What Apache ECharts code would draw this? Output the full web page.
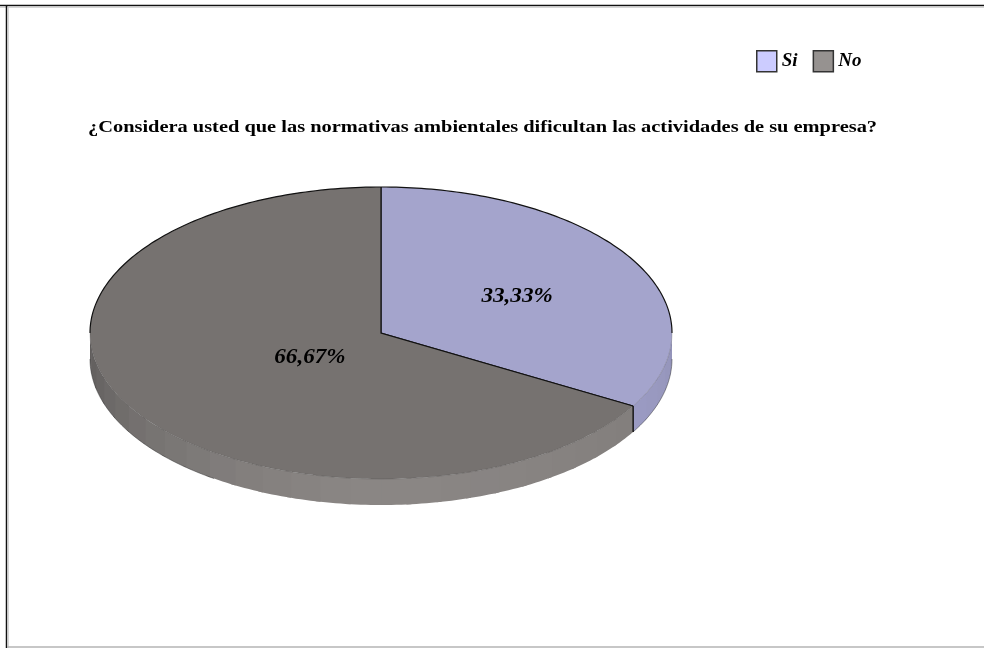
<!DOCTYPE html>
<html>
<head>
<meta charset="utf-8">
<style>html,body{margin:0;padding:0;background:#fff}#c{width:984px;height:648px}</style>
<script src="https://cdn.jsdelivr.net/npm/echarts@6/dist/echarts.min.js"></script>
</head>
<body>
<div id="c"></div>
<script>
const categories = ['Si', 'No'];
const values = [33.33, 66.67];
const valueLabels = ['33,33%', '66,67%'];
const titleText = '¿Considera usted que las normativas ambientales dificultan las actividades de su empresa?';

const legendColors = ['#CCCCFF', '#969290'];
const topColors = ['#A4A4CC', '#767270'];
const sideColors = [[164, 164, 206], [138, 134, 132]];
const labelRadius = [0.54, 0.29];
const labelNudge = [[0, 3], [2, 3]];

const cx = 381, cy = 333, rx = 291, ry = 146, depth = 26;
const total = values.reduce((a, b) => a + b, 0);
const SERIF = '"Liberation Serif","Times New Roman",serif';

function pt(deg, dy) {
  const a = deg * Math.PI / 180;
  return [cx + rx * Math.sin(a), cy - ry * Math.cos(a) + (dy || 0)];
}
function arc(a0, a1, dy) {
  const out = [], n = Math.max(2, Math.ceil(Math.abs(a1 - a0)));
  for (let i = 0; i <= n; i++) out.push(pt(a0 + (a1 - a0) * i / n, dy));
  return out;
}
function shade(base, deg) {
  // brightest at the front of the rim; the left end falls off more than the right
  const off = Math.min(Math.abs(deg - 180) / 90, 1);
  const f = deg > 180 ? 1 - 0.32 * Math.pow(off, 1.5) : 1 - 0.1 * Math.pow(off, 1.5);
  return 'rgb(' + base.map(v => Math.round(v * f)).join(',') + ')';
}
function makeRender(idx) {
  return function (params, api) {
    const start = values.slice(0, idx).reduce((a, b) => a + b, 0) / total * 360;
    const end = start + api.value(0) / total * 360;
    const kids = [];
    // rim, only where it faces the viewer (clock angles 90..270)
    const s0 = Math.max(start, 90), s1 = Math.min(end, 270);
    if (s1 > s0) {
      const step = 6;
      for (let a = s0; a < s1; a += step) {
        const b = Math.min(a + step, s1);
        const over = Math.min(b + 1, s1); // overlap the next strip so no seam shows
        const color = shade(sideColors[idx], (a + b) / 2);
        kids.push({ type: 'polygon', silent: true,
          shape: { points: arc(a, over, 0).concat(arc(over, a, depth)) },
          style: { fill: color } });
      }
      // outer edge: visible at the ends of the rim, faded along the front
      const lo = idx === 0 ? s0 : 215;
      kids.push({ type: 'polyline', silent: true, shape: { points: arc(lo, s1, depth) },
        style: { fill: null, stroke: 'rgba(40,40,40,0.5)', lineWidth: 0.9 } });
    }
    // top face
    const p = [[cx, cy]].concat(arc(start, end, 0));
    kids.push({ type: 'polygon', silent: true, shape: { points: p }, style: { fill: topColors[idx] } });
    // rim edges of the top face: dark on the back half, faint on the front
    const back = idx === 0 ? [start, Math.min(end, 90)] : [Math.max(start, 270), end];
    kids.push({ type: 'polyline', silent: true, shape: { points: arc(back[0], back[1], 0) },
      style: { fill: null, stroke: '#111', lineWidth: 1.2 } });
    if (s1 > s0) {
      kids.push({ type: 'polyline', silent: true, shape: { points: arc(s0, s1, 0) },
        style: { fill: null, stroke: 'rgba(60,60,60,0.3)', lineWidth: 0.8 } });
    }
    // radial edges
    kids.push({ type: 'polyline', silent: true, shape: { points: [pt(start), [cx, cy], pt(end)] },
      style: { fill: null, stroke: '#111', lineWidth: 1.2 } });
    if (end > 90 && end < 270) {
      kids.push({ type: 'line', silent: true,
        shape: { x1: pt(end)[0], y1: pt(end)[1], x2: pt(end, depth)[0], y2: pt(end, depth)[1] },
        style: { stroke: '#111', lineWidth: 1.2 } });
    }
    if (start > 90 && start < 270) {
      kids.push({ type: 'line', silent: true,
        shape: { x1: pt(start)[0], y1: pt(start)[1], x2: pt(start, depth)[0], y2: pt(start, depth)[1] },
        style: { stroke: '#111', lineWidth: 1.2 } });
    }
    // value label
    const mid = (start + end) / 2 * Math.PI / 180, r = labelRadius[idx];
    kids.push({ type: 'text', silent: true,
      x: cx + rx * r * Math.sin(mid) + labelNudge[idx][0],
      y: cy - ry * r * Math.cos(mid) + labelNudge[idx][1],
      scaleX: 1.1,
      style: { text: valueLabels[idx], font: 'italic bold 21px ' + SERIF, fill: '#000',
        align: 'center', verticalAlign: 'middle' } });
    return { type: 'group', children: kids };
  };
}

const chart = echarts.init(document.getElementById('c'), null, { renderer: 'canvas' });
chart.setOption({
  animation: false,
  backgroundColor: '#fff',
  legend: {
    left: 751, top: 45, itemWidth: 20, itemHeight: 21, itemGap: 15,
    selectedMode: false,
    icon: 'rect',
    data: categories,
    itemStyle: { borderColor: '#333', borderWidth: 1.5 },
    textStyle: { fontFamily: SERIF, fontStyle: 'italic', fontWeight: 'bold', fontSize: 19, color: '#000' }
  },
  graphic: [
    { type: 'line', silent: true, shape: { x1: 0, y1: 5.5, x2: 984, y2: 5.5 }, style: { stroke: '#111', lineWidth: 1.5 } },
    { type: 'line', silent: true, shape: { x1: 0, y1: 7, x2: 984, y2: 7 }, style: { stroke: '#c8c8c8', lineWidth: 1.5 } },
    { type: 'line', silent: true, shape: { x1: 6.5, y1: 5, x2: 6.5, y2: 648 }, style: { stroke: '#111', lineWidth: 1.5 } },
    { type: 'line', silent: true, shape: { x1: 8, y1: 7, x2: 8, y2: 648 }, style: { stroke: '#c8c8c8', lineWidth: 1.5 } },
    { type: 'line', silent: true, shape: { x1: 7, y1: 647, x2: 984, y2: 647 }, style: { stroke: '#b4b4b4', lineWidth: 1.5 } },
    { type: 'text', silent: true, x: 88, y: 128, scaleX: 1.275,
      style: { text: titleText, font: 'bold 16px ' + SERIF, fill: '#000', align: 'left', verticalAlign: 'middle' } }
  ],
  series: categories.map((name, i) => ({
    type: 'custom',
    name,
    coordinateSystem: 'none',
    renderItem: makeRender(i),
    itemStyle: { color: legendColors[i] },
    data: [[values[i]]]
  }))
});
</script>
</body>
</html>
